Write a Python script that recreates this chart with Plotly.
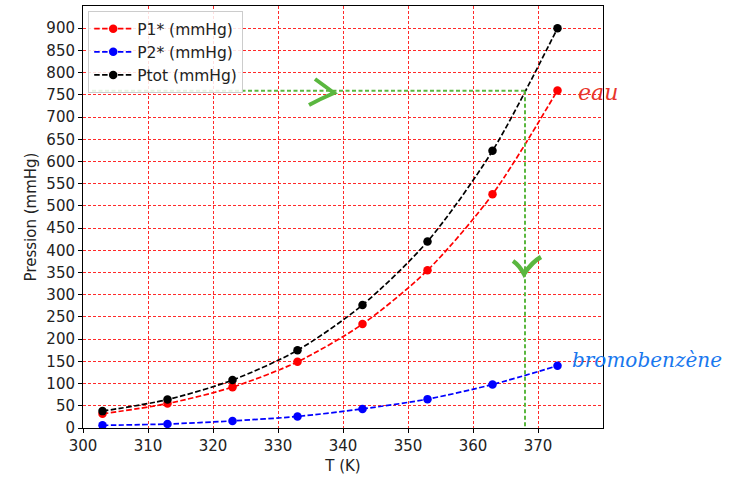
import plotly.graph_objects as go

T = [303, 313, 323, 333, 343, 353, 363, 373]
P1 = [32, 55, 92, 149, 234, 355, 526, 760]
P2 = [6, 9, 16, 26, 43, 65, 98, 140]
Ptot = [38, 64, 108, 175, 277, 420, 624, 900]
x_ticks = list(range(300, 380, 10))
y_ticks = list(range(0, 950, 50))
T_eb = 368
P_atm = 759

# pixel -> data helpers for hand-drawn marks
def dx(px):
    return 300 + (px - 83) / 6.5

def dy(py):
    return (428 - py) * 950 / 422

fig = go.Figure()
series = [("P1* (mmHg)", P1, "red"), ("P2* (mmHg)", P2, "blue"), ("Ptot (mmHg)", Ptot, "black")]
for name, vals, col in series:
    fig.add_trace(go.Scatter(
        x=T, y=vals, name=name, mode="lines+markers",
        line=dict(color=col, width=1.7, dash="5.5px,2.4px", shape="spline", smoothing=0.8),
        marker=dict(color=col, size=8.5),
    ))

green = "#5ab73f"
fig.add_shape(type="line", x0=dx(92), x1=T_eb, y0=P_atm, y1=P_atm,
              line=dict(color=green, width=2, dash="4px,2.5px"))
fig.add_shape(type="line", x0=T_eb, x1=T_eb, y0=P_atm, y1=0,
              line=dict(color=green, width=2, dash="4px,2.5px"))
# arrow chevron
fig.add_shape(type="path",
              path=f"M {dx(315)},{dy(79)} Q {dx(326)},{dy(87)} {dx(334)},{dy(93)} Q {dx(320)},{dy(99)} {dx(309)},{dy(105)}",
              line=dict(color=green, width=4))
# check mark
fig.add_shape(type="path",
              path=f"M {dx(513)},{dy(261)} Q {dx(519)},{dy(265)} {dx(524)},{dy(274)} Q {dx(532)},{dy(262)} {dx(541)},{dy(257)}",
              line=dict(color=green, width=4.5))

fig.add_annotation(xref="paper", yref="paper", x=(576 - 83) / 520, y=(428 - 92) / 422,
                   text="<i>eau</i>", showarrow=False, xanchor="left", yanchor="middle",
                   font=dict(family="DejaVu Serif", size=22, color="#e8352b"))
fig.add_annotation(xref="paper", yref="paper", x=(570 - 83) / 520, y=(428 - 360) / 422,
                   text="<i>bromobenzène</i>", showarrow=False, xanchor="left", yanchor="middle",
                   font=dict(family="DejaVu Serif", size=20, color="#1877ee"))

axis_common = dict(
    showline=True, linecolor="black", linewidth=1, mirror=True,
    ticks="outside", ticklen=4, tickcolor="black",
    showgrid=True, gridcolor="#ff2a2a", griddash="3px,2px", gridwidth=1,
    zeroline=False, tickfont=dict(size=15, color="#222"),
)
fig.update_xaxes(range=[300, 380], tickvals=x_ticks, title=dict(text="T (K)", font=dict(size=15), standoff=6), **axis_common)
fig.update_yaxes(range=[0, 950], tickvals=y_ticks, title=dict(text="Pression (mmHg)", font=dict(size=15), standoff=6), **axis_common)

fig.update_layout(
    width=740, height=478,
    margin=dict(l=83, r=137, t=6, b=50, autoexpand=False),
    plot_bgcolor="white", paper_bgcolor="white",
    font=dict(family="DejaVu Sans", size=15, color="#222"),
    legend=dict(x=0.01, y=0.988, xanchor="left", yanchor="top",
                bgcolor="rgba(255,255,255,0.85)", bordercolor="#cccccc", borderwidth=1,
                font=dict(size=15.5), tracegroupgap=0, itemwidth=38),
)

fig.write_html("out.html", post_script="document.body.style.margin='0';",
               config={"displayModeBar": False})
